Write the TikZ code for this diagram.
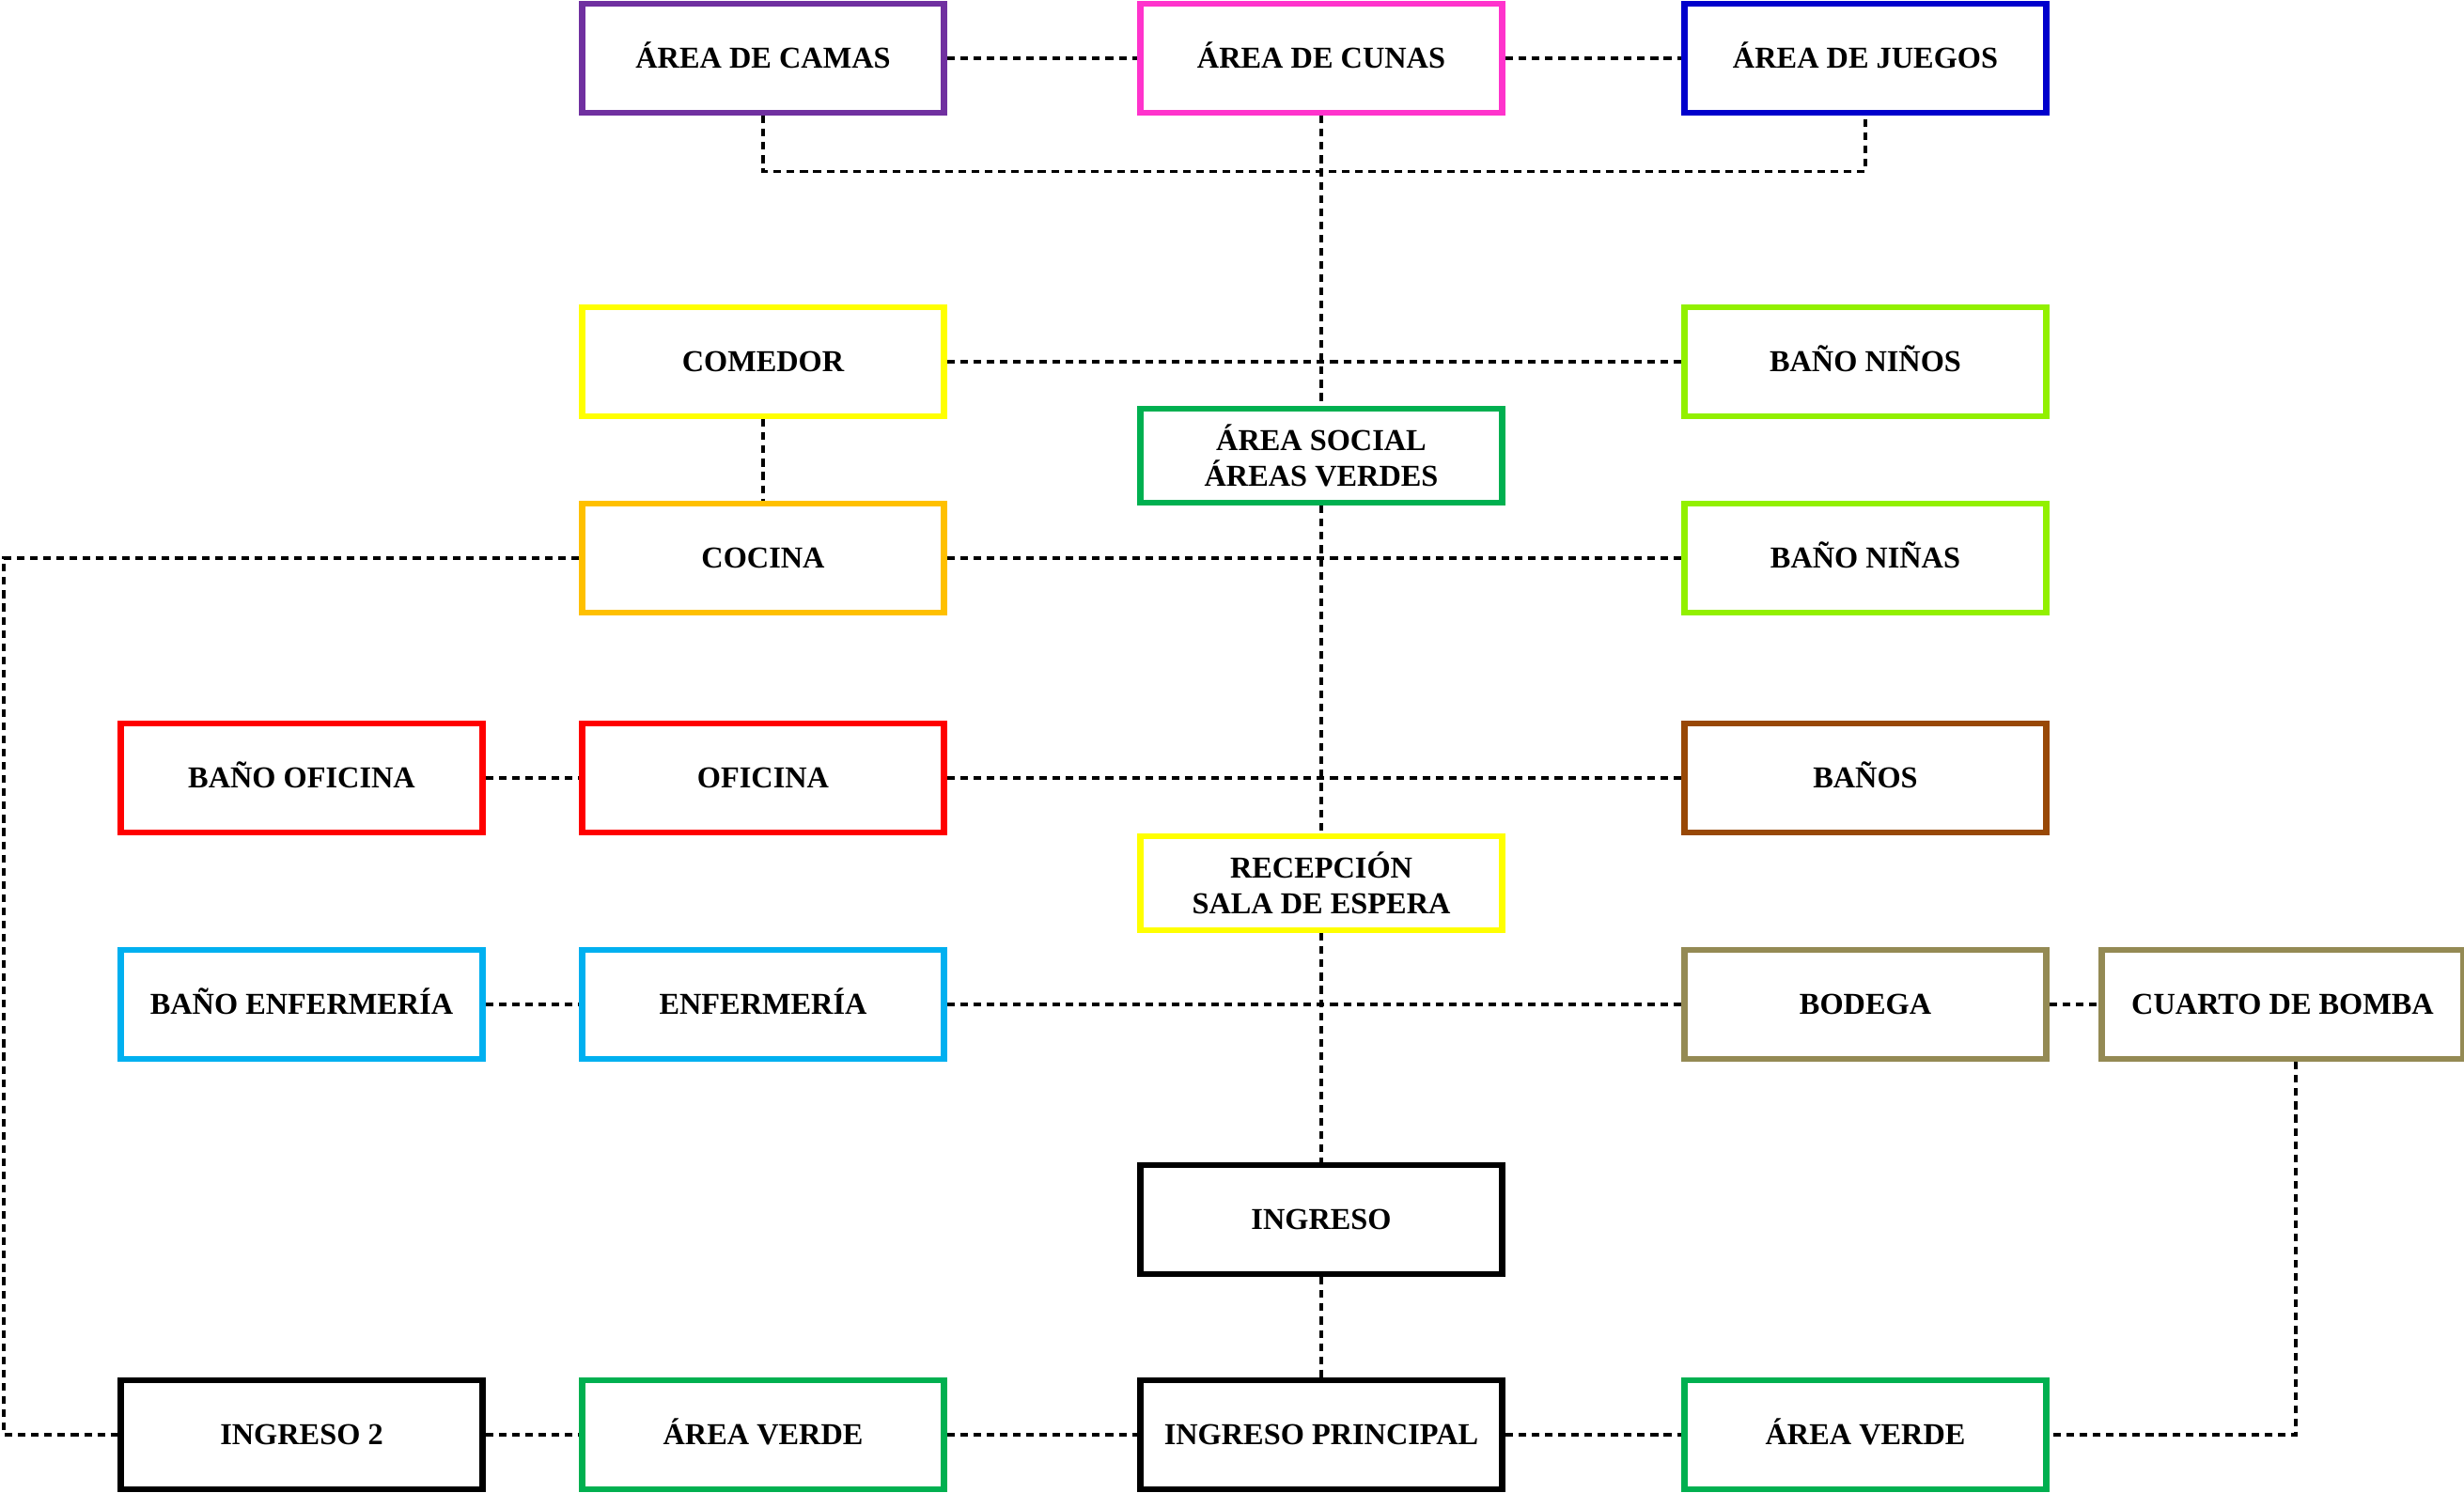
\documentclass[tikz,border=0pt]{standalone}
\usepackage{fontspec}
\setmainfont{Liberation Serif}
\usepackage{tikz}
\usepackage{xcolor}
\usetikzlibrary{calc, positioning}
\definecolor{camas}{RGB}{112,48,160}
\definecolor{cunas}{RGB}{255,51,204}
\definecolor{juegos}{RGB}{0,0,204}
\definecolor{amarillo}{RGB}{255,255,0}
\definecolor{lima}{RGB}{146,240,0}
\definecolor{verde}{RGB}{0,176,80}
\definecolor{naranja}{RGB}{255,192,0}
\definecolor{rojo}{RGB}{255,0,0}
\definecolor{cafe}{RGB}{152,72,6}
\definecolor{celeste}{RGB}{0,176,240}
\definecolor{oliva}{RGB}{148,138,84}
\tikzset{
    box/.style={rectangle, line width=1.85pt, fill=white, inner sep=0cm,
        minimum width=3.85cm, align=center,
        font=\fontsize{9.2}{10.8}\selectfont\bfseries},
    room/.style={box, minimum height=1.16cm, text height=6.2pt, text depth=0pt},
    tworoom/.style={box, minimum height=1.0cm},
    link/.style={line width=0.9pt, dash pattern=on 2.3pt off 1.7pt}
}
\newcommand{\room}[4]{
    \node[room, draw=#3] (#1) at (#2) {#4};
}
\newcommand{\tworoom}[4]{
    \node[tworoom, draw=#3] (#1) at (#2) {#4};
}

\begin{document}
\begin{tikzpicture}
                    \useasboundingbox (0, 0) rectangle (26.22, -15.88);
                    \coordinate (borde) at (0.04, 0);
                    \room{camas}{8.12, -0.62}{camas}{ÁREA DE CAMAS}
                    \room{cunas}{14.06, -0.62}{cunas}{ÁREA DE CUNAS}
                    \room{juegos}{19.85, -0.62}{juegos}{ÁREA DE JUEGOS}
                    \room{comedor}{8.12, -3.85}{amarillo}{COMEDOR}
                    \room{ninos}{19.85, -3.85}{lima}{BAÑO NIÑOS}
                    \tworoom{social}{14.06, -4.85}{verde}{ÁREA SOCIAL\\ÁREAS VERDES}
                    \room{cocina}{8.12, -5.94}{naranja}{COCINA}
                    \room{ninas}{19.85, -5.94}{lima}{BAÑO NIÑAS}
                    \room{banofi}{3.21, -8.28}{rojo}{BAÑO OFICINA}
                    \room{oficina}{8.12, -8.28}{rojo}{OFICINA}
                    \room{banos}{19.85, -8.28}{cafe}{BAÑOS}
                    \tworoom{recepcion}{14.06, -9.40}{amarillo}{RECEPCIÓN\\SALA DE ESPERA}
                    \room{banenf}{3.21, -10.69}{celeste}{BAÑO ENFERMERÍA}
                    \room{enfermeria}{8.12, -10.69}{celeste}{ENFERMERÍA}
                    \room{bodega}{19.85, -10.69}{oliva}{BODEGA}
                    \room{bomba}{24.29, -10.69}{oliva}{CUARTO DE BOMBA}
                    \room{ingreso}{14.06, -12.98}{black}{INGRESO}
                    \room{ingreso2}{3.21, -15.27}{black}{INGRESO 2}
                    \room{verde1}{8.12, -15.27}{verde}{ÁREA VERDE}
                    \room{principal}{14.06, -15.27}{black}{INGRESO PRINCIPAL}
                    \room{verde2}{19.85, -15.27}{verde}{ÁREA VERDE}
                    \draw[link]
                    (camas) -- (cunas)
                    (cunas) -- (juegos)
                    (camas.south) -- ++(0, -0.59) -| (juegos.south)
                    (cunas) -- (social)
                    (social) -- (recepcion)
                    (recepcion) -- (ingreso)
                    (comedor) -- (ninos)
                    (comedor) -- (cocina)
                    (cocina) -- (ninas)
                    (banofi) -- (oficina)
                    (oficina) -- (banos)
                    (banenf) -- (enfermeria)
                    (enfermeria) -- (bodega)
                    (bodega) -- (bomba)
                    ([xshift=1.4mm]bomba.south) |- (verde2.east)
                    (ingreso) -- (principal)
                    (ingreso2) -- (verde1)
                    (verde1) -- (principal)
                    (principal) -- (verde2)
                    (cocina.west) -- (cocina.west -| borde) |- (ingreso2.west);
                \end{tikzpicture}
\end{document}
